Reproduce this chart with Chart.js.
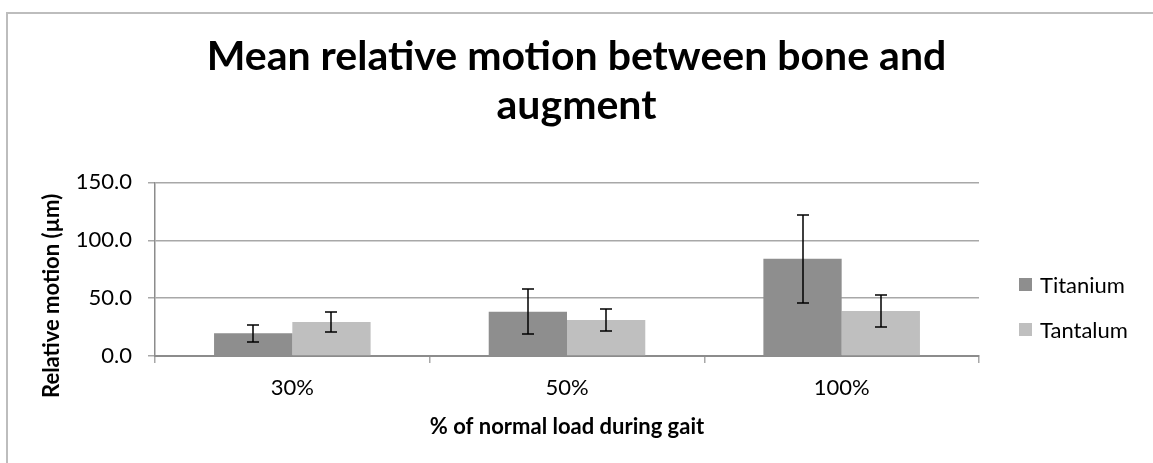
<!DOCTYPE html>
<html>
<head>
<meta charset="utf-8">
<script src="https://cdn.jsdelivr.net/npm/chart.js@4.4.0/dist/chart.umd.min.js"></script>
<style>
  html, body { margin: 0; padding: 0; background: #fff; overflow: hidden; }
  #wrap { position: relative; width: 1153px; height: 463px; }
  #frame { position: absolute; left: 6px; top: 12px; width: 2000px; height: 2000px; border: 2px solid #bdbdbd; box-sizing: border-box; }
  canvas { position: absolute; left: 0; top: 0; }
</style>
</head>
<body>
<div id="wrap">
  <div id="frame"></div>
  <canvas id="chart" width="1153" height="463"></canvas>
</div>
<script>
// Chart data
const categories = ["30%", "50%", "100%"]
const seriesNames = ["Titanium", "Tantalum"]
const titaniumValues = [19.6, 38.3, 84.0]
const titaniumErrors = [7.4, 19.3, 38.2]
const tantalumValues = [29.3, 31.0, 38.9]
const tantalumErrors = [8.5, 9.8, 14.2]
const yTicks = [0, 50, 100, 150]

const FONT = "Lato, 'Open Sans', sans-serif"

// draws the +/- error whiskers on top of each bar
const errorBars = {
  id: "errorBars",
  afterDatasetsDraw(chart) {
    const { ctx } = chart
    const y = chart.scales.y
    ctx.save()
    ctx.strokeStyle = "#000"
    ctx.lineWidth = 1.5
    chart.data.datasets.forEach((ds, i) => {
      const meta = chart.getDatasetMeta(i)
      meta.data.forEach((bar, j) => {
        const v = ds.data[j]
        const e = ds.errors[j]
        const top = Math.round(y.getPixelForValue(v + e))
        const bot = Math.round(y.getPixelForValue(v - e))
        const x = Math.round(bar.x)
        ctx.beginPath()
        ctx.moveTo(x, top)
        ctx.lineTo(x, bot)
        ctx.moveTo(x - 6, top)
        ctx.lineTo(x + 6, top)
        ctx.moveTo(x - 6, bot)
        ctx.lineTo(x + 6, bot)
        ctx.stroke()
      })
    })
    ctx.restore()
  },
}

// legend on the right, like the Excel one
const sideLegend = {
  id: "sideLegend",
  afterDraw(chart) {
    const { ctx, chartArea } = chart
    const mid = (chartArea.top + chartArea.bottom) / 2 + 38
    const gap = 45
    ctx.save()
    ctx.font = "22px " + FONT
    ctx.textBaseline = "middle"
    chart.data.datasets.forEach((ds, i) => {
      const cy = mid + (i - (chart.data.datasets.length - 1) / 2) * gap
      const x0 = chartArea.right + 40
      ctx.fillStyle = ds.backgroundColor
      ctx.fillRect(x0, Math.round(cy - 7), 13, 13)
      ctx.fillStyle = "#000"
      ctx.fillText(ds.label, x0 + 21, cy + 1)
    })
    ctx.restore()
  },
}

document.addEventListener("DOMContentLoaded", () => {
  const ctx = document.getElementById("chart")

  new Chart(ctx, {
    type: "bar",
    data: {
      labels: categories,
      datasets: [
        {
          label: seriesNames[0],
          data: titaniumValues,
          errors: titaniumErrors,
          backgroundColor: "#8e8e8e",
          borderWidth: 0,
        },
        {
          label: seriesNames[1],
          data: tantalumValues,
          errors: tantalumErrors,
          backgroundColor: "#bfbfbf",
          borderWidth: 0,
        },
      ],
    },
    options: {
      responsive: false,
      animation: false,
      devicePixelRatio: 1,
      layout: { padding: 0 },
      datasets: {
        bar: { categoryPercentage: 0.57, barPercentage: 1.0 },
      },
      plugins: {
        legend: { display: false },
        tooltip: { enabled: false },
        title: {
          display: true,
          text: ["Mean relative motion between bone and", "augment"],
          color: "#000",
          font: { family: FONT, size: 41, weight: "bold", lineHeight: 1.2 },
          padding: { top: 32, bottom: 52 },
        },
      },
      scales: {
        x: {
          afterFit: (s) => { s.height = 107 },
          grid: {
            offset: true,
            drawOnChartArea: false,
            drawTicks: true,
            tickLength: 7,
            color: "#a8a8a8",
            lineWidth: 1.5,
          },
          border: { color: "#8c8c8c", width: 2 },
          ticks: {
            color: "#000",
            padding: 12,
            font: { family: FONT, size: 22 },
          },
          title: {
            display: true,
            text: "% of normal load during gait",
            color: "#000",
            font: { family: FONT, size: 22, weight: "bold" },
            padding: { top: 0, bottom: 23 },
          },
        },
        y: {
          min: yTicks[0],
          max: yTicks[yTicks.length - 1],
          afterFit: (s) => { s.width = 155 },
          afterBuildTicks: (s) => { s.ticks = yTicks.map((v) => ({ value: v })) },
          grid: {
            color: "#a8a8a8",
            lineWidth: 1.5,
            tickLength: 7,
          },
          border: { color: "#8c8c8c", width: 1.5 },
          ticks: {
            color: "#000",
            padding: 16,
            font: { family: FONT, size: 22 },
            callback: (v) => Number(v).toFixed(1),
          },
          title: {
            display: true,
            text: "Relative motion (µm)          ",
            color: "#000",
            font: { family: FONT, size: 22, weight: "bold" },
            padding: { top: 39, bottom: 0 },
          },
        },
        // empty right-hand box that keeps room for the legend
        legendSpace: {
          type: "linear",
          position: "right",
          afterFit: (s) => { s.width = 174 },
          grid: { display: false },
          border: { display: false },
          ticks: { display: false },
        },
      },
    },
    plugins: [errorBars, sideLegend],
  })
})
</script>
</body>
</html>
